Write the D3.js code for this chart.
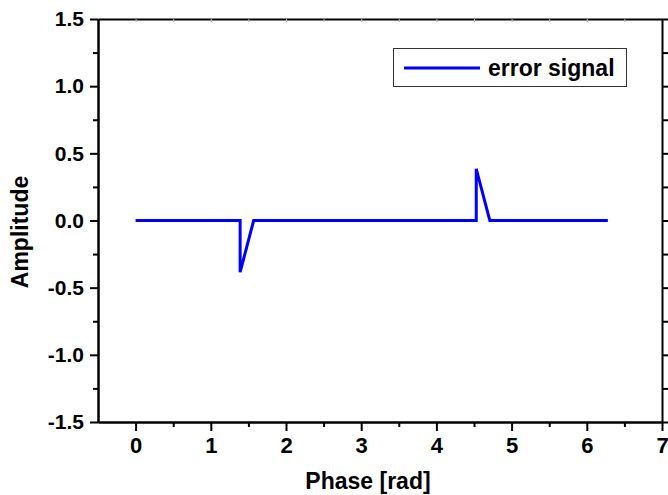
<!DOCTYPE html>
<html>
<head>
<meta charset="utf-8">
<script src="https://cdn.jsdelivr.net/npm/d3@7"></script>
<style>
  html, body { margin: 0; padding: 0; background: #fff; }
  svg { display: block; font-family: "Liberation Sans", Arial, sans-serif; font-weight: bold; }
</style>
</head>
<body>
<svg id="chart" width="668" height="495"></svg>
<script>
// Error signal over one period of phase
const phase = [0, 1.39, 1.39, 1.57, 4.53, 4.53, 4.71, 6.28];
const amplitude = [0, 0, -0.385, 0, 0, 0.385, 0, 0];

const xTicks = [0, 1, 2, 3, 4, 5, 6, 7];
const xMinorTicks = [0.5, 1.5, 2.5, 3.5, 4.5, 5.5, 6.5];
const yTicks = [-1.5, -1.0, -0.5, 0.0, 0.5, 1.0, 1.5];
const yMinorTicks = [-1.25, -0.75, -0.25, 0.25, 0.75, 1.25];

const seriesName = "error signal";
const xTitle = "Phase [rad]";
const yTitle = "Amplitude";

const svg = d3.select("#chart");
const plotLeft = 98, plotRight = 662, plotTop = 19, plotBottom = 422;

const x = d3.scaleLinear().domain([-0.5, 7]).range([plotLeft, plotRight]);
const y = d3.scaleLinear().domain([-1.5, 1.5]).range([plotBottom, plotTop]);

function styleAxis(g, fontSize) {
  g.select(".domain").attr("stroke", "#000").attr("stroke-width", 2);
  g.selectAll(".tick line").attr("stroke", "#000").attr("stroke-width", 2);
  g.selectAll(".tick text")
    .attr("fill", "#000")
    .style("font-size", fontSize + "px")
    .style("font-weight", "bold")
    .style("font-family", "'Liberation Sans', Arial, sans-serif");
}

// bottom axis: major + minor ticks
svg.append("g")
  .attr("transform", `translate(0,${plotBottom})`)
  .call(d3.axisBottom(x).tickValues(xMinorTicks).tickSize(5).tickFormat("").tickSizeOuter(0))
  .call(g => styleAxis(g, 22));
svg.append("g")
  .attr("transform", `translate(0,${plotBottom})`)
  .call(d3.axisBottom(x).tickValues(xTicks).tickSize(9).tickPadding(6).tickFormat(d => String(d)).tickSizeOuter(0))
  .call(g => styleAxis(g, 22));

// left axis: major + minor ticks
svg.append("g")
  .attr("transform", `translate(${plotLeft},0)`)
  .call(d3.axisLeft(y).tickValues(yMinorTicks).tickSize(5).tickFormat("").tickSizeOuter(0))
  .call(g => styleAxis(g, 21));
svg.append("g")
  .attr("transform", `translate(${plotLeft},0)`)
  .call(d3.axisLeft(y).tickValues(yTicks).tickSize(8).tickPadding(6).tickFormat(d => d.toFixed(1)).tickSizeOuter(0))
  .call(g => styleAxis(g, 21));

// top axis: faint inward ticks
svg.append("g")
  .attr("transform", `translate(0,${plotTop})`)
  .call(d3.axisBottom(x).tickValues(xTicks.concat(xMinorTicks)).tickSize(3).tickFormat("").tickSizeOuter(0))
  .call(g => {
    g.select(".domain").attr("stroke", "#000").attr("stroke-width", 2);
    g.selectAll(".tick line").attr("stroke", "#bbb").attr("stroke-width", 1);
  });

// right axis: outward ticks
svg.append("g")
  .attr("transform", `translate(${plotRight},0)`)
  .call(d3.axisRight(y).tickValues(yTicks.concat(yMinorTicks)).tickSize(6).tickFormat("").tickSizeOuter(0))
  .call(g => {
    g.select(".domain").attr("stroke", "#000").attr("stroke-width", 2);
    g.selectAll(".tick line").attr("stroke", "#000").attr("stroke-width", 2);
  });

// data line
const pts = phase.map((p, i) => [p, amplitude[i]]);
svg.append("path")
  .datum(pts)
  .attr("fill", "none")
  .attr("stroke", "#0000ff")
  .attr("stroke-width", 3)
  .attr("stroke-linejoin", "miter")
  .attr("d", d3.line().x(d => x(d[0])).y(d => y(d[1])));

// axis titles
svg.append("text")
  .attr("x", 368)
  .attr("y", 489)
  .attr("text-anchor", "middle")
  .style("font-size", "23px")
  .text(xTitle);

svg.append("text")
  .attr("transform", `translate(28,232) rotate(-90)`)
  .attr("text-anchor", "middle")
  .style("font-size", "23px")
  .text(yTitle);

// legend
const legend = svg.append("g");
legend.append("rect")
  .attr("x", 393.5).attr("y", 48.5).attr("width", 233).attr("height", 38)
  .attr("fill", "#fff").attr("stroke", "#333").attr("stroke-width", 1);
legend.append("line")
  .attr("x1", 404).attr("x2", 480).attr("y1", 68).attr("y2", 68)
  .attr("stroke", "#0000ff").attr("stroke-width", 3);
legend.append("text")
  .attr("x", 488).attr("y", 76)
  .style("font-size", "23px")
  .text(seriesName);
</script>
</body>
</html>
